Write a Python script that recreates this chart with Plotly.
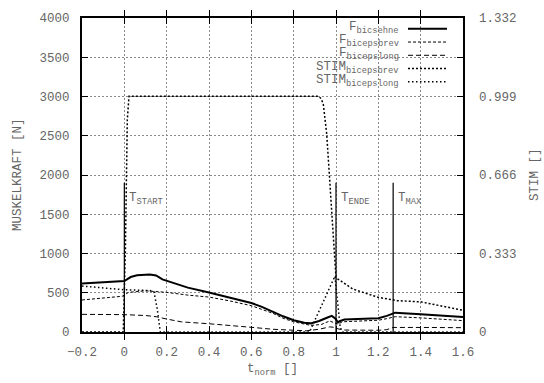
import plotly.graph_objects as go

# ---------------- data ----------------
t_sehne = [-0.2, -0.1, -0.01, 0.0, 0.03, 0.06, 0.12, 0.15, 0.18, 0.25, 0.3, 0.4, 0.5, 0.56, 0.6,
           0.65, 0.7, 0.75, 0.8, 0.85, 0.88, 0.92, 0.96, 0.98, 0.995, 1.01, 1.02, 1.04, 1.1, 1.2,
           1.24, 1.28, 1.4, 1.6]
F_bicsehne = [617, 630, 641, 650, 700, 722, 733, 720, 670, 610, 565, 504, 440, 392, 370,
              320, 258, 200, 150, 118, 110, 140, 185, 205, 175, 122, 140, 160, 165, 175,
              205, 246, 225, 191]

t_brev = [-0.2, -0.1, -0.01, 0.02, 0.1, 0.2, 0.3, 0.4, 0.5, 0.6, 0.7, 0.75, 0.8, 0.88, 0.93,
          0.97, 0.99, 1.01, 1.03, 1.1, 1.2, 1.24, 1.28, 1.4, 1.6]
F_bicepsbrev = [408, 430, 455, 505, 525, 505, 470, 445, 395, 335, 240, 175, 130, 85, 95,
                140, 120, 100, 130, 140, 150, 170, 195, 180, 145]

t_long = [-0.2, -0.1, 0.0, 0.1, 0.15, 0.2, 0.27, 0.4, 0.5, 0.6, 0.7, 0.8, 0.86, 0.92, 0.97,
          0.99, 1.01, 1.04, 1.1, 1.2, 1.24, 1.27, 1.4, 1.6]
F_bicepslong = [225, 224, 221, 210, 195, 165, 129, 105, 85, 60, 35, 18, 15, 35, 65,
                60, 40, 25, 22, 22, 30, 58, 58, 55]

t_stim_brev = [-0.2, -0.005, 0.005, 0.014, 0.022, 0.3, 0.6, 0.9, 0.917, 0.93, 0.94, 0.956,
               0.972, 0.987, 1.0, 1.08, 1.2, 1.29, 1.4, 1.6]
STIM_bicepsbrev = [0.0, 0.0, 0.35, 0.9, 1.0, 1.0, 1.0, 1.0, 1.0, 0.99, 0.966, 0.841,
                   0.633, 0.425, 0.23, 0.182, 0.147, 0.133, 0.128, 0.092]

t_stim_long = [-0.2, -0.1, 0.0, 0.05, 0.12, 0.14, 0.155, 0.17, 0.5, 0.875, 0.995, 1.005,
               1.02, 1.03, 1.6]
STIM_bicepslong = [0.195, 0.186, 0.179, 0.178, 0.176, 0.17, 0.1, 0.0, 0.0, 0.0, 0.237, 0.16,
                   0.02, 0.0, 0.0]

T_markers = [0.0, 1.0, 1.27]
T_labels = ["T<sub>START</sub>", "T<sub>ENDE</sub>", "T<sub>MAX</sub>"]
T_height = 1900

x_ticks = [-0.2, 0, 0.2, 0.4, 0.6, 0.8, 1, 1.2, 1.4, 1.6]
x_ticktext = ["\u22120.2", "0", "0.2", "0.4", "0.6", "0.8", "1", "1.2", "1.4", "1.6"]
y_ticks = [0, 500, 1000, 1500, 2000, 2500, 3000, 3500, 4000]
y2_ticks = [0, 0.333, 0.666, 0.999, 1.332]
y2_ticktext = ["0", "0.333", "0.666", "0.999", "1.332"]

# ---------------- styling ----------------
FONT = "Liberation Mono"
TXT = "#666666"
FS = 12.5
L, R, T, B = 82, 463, 12, 332
W, H = 544, 383


def px(xp):
    return (xp - L) / (R - L)


def py(yp):
    return (B - yp) / (B - T)


series = [
    ("F<sub>bicsehne</sub>", t_sehne, F_bicsehne, "y", dict(color="black", width=2, dash="solid")),
    ("F<sub>bicepsbrev</sub>", t_brev, F_bicepsbrev, "y", dict(color="black", width=1, dash="3px,2px")),
    ("F<sub>bicepslong</sub>", t_long, F_bicepslong, "y", dict(color="black", width=1, dash="5px,3px")),
    ("STIM<sub>bicepsbrev</sub>", t_stim_brev, STIM_bicepsbrev, "y2", dict(color="black", width=1.5, dash="2px,2px")),
    ("STIM<sub>bicepslong</sub>", t_stim_long, STIM_bicepslong, "y2", dict(color="black", width=1.5, dash="1.5px,2.5px")),
]

fig = go.Figure()

for name, tx, vy, ax, ln in series:
    fig.add_trace(go.Scatter(x=tx, y=vy, mode="lines", name=name, yaxis=ax, line=ln,
                             showlegend=False))

for tm in T_markers:
    fig.add_trace(go.Scatter(x=[tm, tm], y=[0, T_height], mode="lines", yaxis="y",
                             line=dict(color="black", width=1.2), showlegend=False))

annotations = []
for tm, lab in zip(T_markers, T_labels):
    annotations.append(dict(x=tm, y=1700, xref="x", yref="y", text=lab, showarrow=False,
                            xanchor="left", yanchor="middle", xshift=3,
                            font=dict(family=FONT, size=FS, color=TXT)))

# manual legend (gnuplot style: text right, sample to its right)
shapes = [dict(type="rect", xref="paper", yref="paper", x0=px(255), x1=px(461),
               y0=py(86), y1=py(14), fillcolor="white", line=dict(width=0), layer="between")]
leg_y = [23, 36.5, 50, 63.5, 77]
for (name, tx, vy, ax, ln), yy in zip(series, leg_y):
    annotations.append(dict(x=px(401), y=py(yy - 1), xref="paper", yref="paper", text=name,
                            showarrow=False, xanchor="right", yanchor="middle",
                            font=dict(family=FONT, size=FS, color=TXT)))
    shapes.append(dict(type="line", xref="paper", yref="paper", x0=px(408), x1=px(447),
                       y0=py(yy), y1=py(yy), line=ln, layer="above"))

# axis titles
annotations.append(dict(x=px(18), y=py(172), xref="paper", yref="paper", text="MUSKELKRAFT [N]",
                        showarrow=False, textangle=-90, xanchor="center", yanchor="middle",
                        font=dict(family=FONT, size=FS, color=TXT)))
annotations.append(dict(x=px(535), y=py(172), xref="paper", yref="paper", text="STIM []",
                        showarrow=False, textangle=-90, xanchor="center", yanchor="middle",
                        font=dict(family=FONT, size=FS, color=TXT)))
annotations.append(dict(x=px(272), y=py(371), xref="paper", yref="paper", text="t<sub>norm</sub> []",
                        showarrow=False, xanchor="center", yanchor="middle",
                        font=dict(family=FONT, size=FS, color=TXT)))

GRID = dict(showgrid=True, gridcolor="#8a8a8a", griddash="2px,2px", gridwidth=1)

fig.update_layout(
    width=W, height=H,
    margin=dict(l=L, r=W - R, t=T, b=H - B, pad=0),
    paper_bgcolor="white", plot_bgcolor="white",
    font=dict(family=FONT, size=FS, color=TXT),
    showlegend=False,
    annotations=annotations,
    shapes=shapes,
    xaxis=dict(range=[-0.2, 1.6], tickvals=x_ticks, ticktext=x_ticktext, **GRID,
               zeroline=False, showline=True, linecolor="black", linewidth=2,
               mirror="allticks", ticks="inside", ticklen=6, tickcolor="black",
               ticklabelstandoff=7, tickfont=dict(family=FONT, size=FS, color=TXT)),
    yaxis=dict(range=[0, 4000], tickvals=y_ticks, **GRID,
               zeroline=False, showline=True, linecolor="black", linewidth=2,
               mirror="allticks", ticks="inside", ticklen=6, tickcolor="black",
               ticklabelstandoff=8, tickfont=dict(family=FONT, size=FS, color=TXT)),
    yaxis2=dict(range=[0, 1.332], tickvals=y2_ticks, ticktext=y2_ticktext,
                overlaying="y", side="right", showgrid=False, zeroline=False,
                showline=False, ticks="inside", ticklen=6, tickcolor="black",
                ticklabelstandoff=15, tickfont=dict(family=FONT, size=FS, color=TXT)),
)

fig.write_html("out.html")
